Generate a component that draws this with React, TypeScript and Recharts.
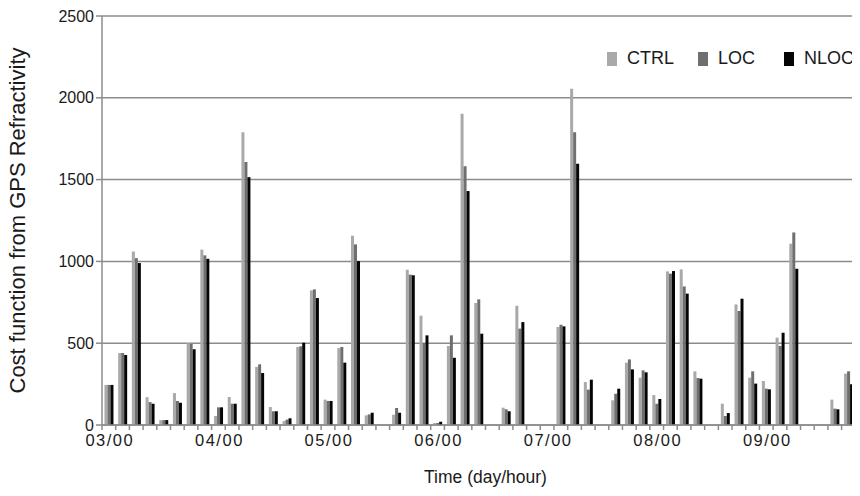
import { BarChart, Bar, XAxis, YAxis, CartesianGrid } from "recharts";

// 3-hourly analysis times, day 03 .. day 09
const days = ["03", "04", "05", "06", "07", "08", "09"];
const hours = ["00", "03", "06", "09", "12", "15", "18", "21"];
const times = days.flatMap((d) => hours.map((h) => `${d}/${h}`));

const ctrl = [
  245, 440, 1060, 170, 30, 195, 500, 1072,
  55, 171, 1790, 355, 110, 24, 477, 823,
  155, 470, 1157, 59, 0, 63, 949, 668,
  12, 483, 1903, 746, 0, 106, 729, 0,
  0, 599, 2055, 263, 0, 151, 381, 289,
  183, 939, 951, 328, 0, 130, 737, 289,
  269, 534, 1108, 0, 0, 155, 314, 269,
];
const loc = [
  245, 440, 1020, 140, 30, 147, 495, 1037,
  108, 130, 1607, 371, 84, 33, 481, 829,
  147, 477, 1104, 65, 0, 104, 919, 501,
  12, 548, 1581, 768, 0, 96, 589, 0,
  0, 613, 1790, 216, 0, 191, 401, 334,
  130, 925, 847, 287, 0, 55, 697, 328,
  222, 483, 1177, 0, 0, 100, 328, 250,
];
const nloc = [
  245, 428, 990, 130, 30, 136, 463, 1016,
  108, 130, 1515, 318, 84, 41, 503, 776,
  147, 381, 1002, 75, 0, 75, 915, 548,
  20, 411, 1430, 558, 0, 84, 629, 0,
  0, 603, 1597, 277, 0, 222, 340, 322,
  159, 941, 803, 283, 0, 73, 772, 253,
  218, 564, 955, 0, 0, 96, 249, 220,
];

const yTicks = [0, 500, 1000, 1500, 2000, 2500];

const series = [
  { key: "CTRL", color: "#a9a9a9", left: 7 },
  { key: "LOC", color: "#6f6f6f", left: 98 },
  { key: "NLOC", color: "#050505", left: 184 },
];

const data = times.map((t, i) => ({ time: t, CTRL: ctrl[i], LOC: loc[i], NLOC: nloc[i] }));

const CHART_W = 880;
const CHART_H = 496;
const MARGIN = { top: 16, right: 11, bottom: 0, left: 0 };
const Y_AXIS_W = 102;
const X_AXIS_H = 71;
const PLOT_W = CHART_W - Y_AXIS_W - MARGIN.right - MARGIN.left;
const AXIS_Y = CHART_H - MARGIN.bottom - X_AXIS_H;
const BAND = PLOT_W / times.length;
const GRID = "#8c8c8c";
const FONT = "'Liberation Sans', Arial, sans-serif";

// tick marks sit between categories, labels only at 00 UTC
function TimeTick(props: any) {
  const { x, payload } = props;
  const left = x - BAND / 2;
  return (
    <g>
      <line x1={left} x2={left} y1={AXIS_Y} y2={AXIS_Y + 5} stroke={GRID} strokeWidth={1.5} />
      {payload.value.endsWith("/00") && (
        <text
          x={x + 1}
          y={AXIS_Y + 21}
          textAnchor="middle"
          fontSize={16.5}
          letterSpacing={1.5}
          fontFamily={FONT}
          fill="#1a1a1a"
        >
          {payload.value}
        </text>
      )}
    </g>
  );
}

export default function App() {
  return (
    <div style={{ margin: -8, width: 860, height: 496, overflow: "hidden", position: "relative", background: "#fff" }}>
      <BarChart
        width={CHART_W}
        height={CHART_H}
        data={data}
        margin={MARGIN}
        barCategoryGap="18%"
        barGap={0}
      >
        <CartesianGrid vertical={false} stroke={GRID} strokeWidth={1.5} />
        <XAxis
          dataKey="time"
          interval={0}
          height={X_AXIS_H}
          tickLine={false}
          tickSize={4}
          tickMargin={0}
          tick={<TimeTick />}
          axisLine={{ stroke: GRID, strokeWidth: 1.5 }}
          label={{
            value: "Time (day/hour)",
            position: "insideBottom",
            offset: 13,
            style: { fontSize: 17.5, fontFamily: FONT, fill: "#1a1a1a" },
          }}
        />
        <YAxis
          width={Y_AXIS_W}
          domain={[0, 2500]}
          ticks={yTicks}
          tickSize={6}
          tick={{ fontSize: 16, fontFamily: FONT, fill: "#1a1a1a" }}
          axisLine={{ stroke: GRID, strokeWidth: 1.5 }}
          tickLine={{ stroke: GRID, strokeWidth: 1.5 }}
          label={{
            value: "Cost function from GPS Refractivity",
            angle: -90,
            position: "insideLeft",
            offset: 17,
            style: { textAnchor: "middle", fontSize: 22, fontFamily: FONT, fill: "#1a1a1a" },
          }}
        />
        {series.map((s) => (
          <Bar key={s.key} dataKey={s.key} fill={s.color} isAnimationActive={false} />
        ))}
      </BarChart>
      <div style={{ position: "absolute", left: 600, top: 48, width: 260, height: 20, fontFamily: FONT, fontSize: 18, color: "#1a1a1a" }}>
        {series.map((s) => (
          <div key={s.key} style={{ position: "absolute", left: s.left, top: 0, display: "flex", alignItems: "center" }}>
            <span style={{ display: "inline-block", width: 10, height: 14, background: s.color, marginRight: 10 }} />
            <span>{s.key}</span>
          </div>
        ))}
      </div>
    </div>
  );
}
